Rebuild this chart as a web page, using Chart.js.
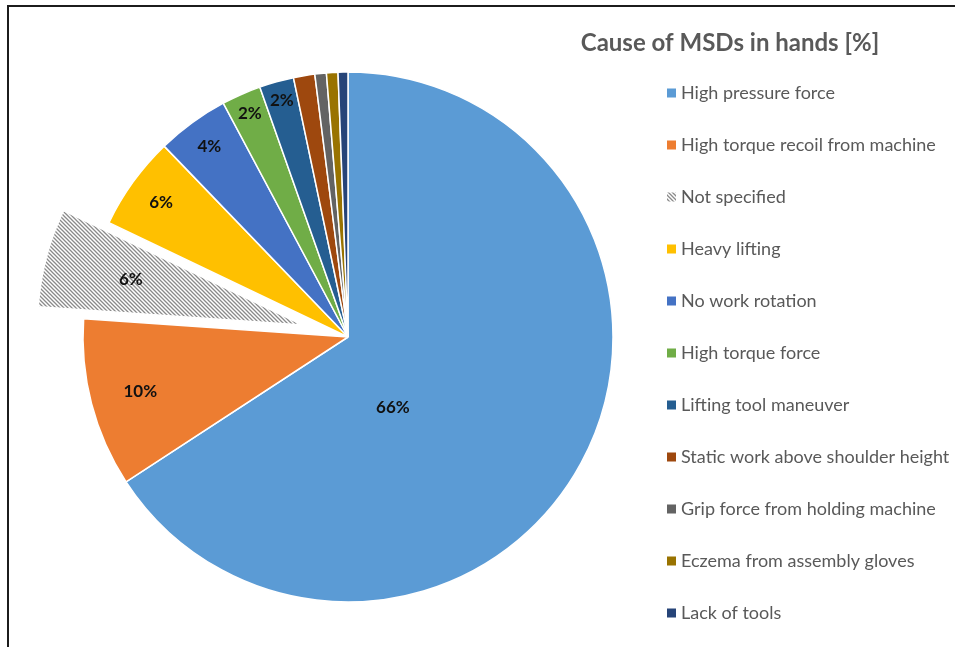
<!DOCTYPE html>
<html>
<head>
<meta charset="utf-8">
<title>Cause of MSDs in hands</title>
<script src="https://cdn.jsdelivr.net/npm/chart.js@4.4.1/dist/chart.umd.min.js"></script>
<style>
    html, body { margin: 0; padding: 0; background: #fff; }
    #wrap { position: relative; width: 955px; height: 647px; overflow: hidden; }
    #frame {
        position: absolute; left: 7px; top: 5px; right: -4px; bottom: -4px;
        border-top: 2px solid #1c1c1c; border-left: 2px solid #1c1c1c;
        pointer-events: none;
    }
</style>
</head>
<body>
<div id="wrap">
    <canvas id="msdChart" width="955" height="647"></canvas>
    <div id="frame"></div>
</div>
<script>
// Causes, in drawing order (clockwise from 12 o'clock)
const categories = [
    'High pressure force',
    'High torque recoil from machine',
    'Not specified',
    'Heavy lifting',
    'No work rotation',
    'High torque force',
    'Lifting tool maneuver',
    'Static work above shoulder height',
    'Grip force from holding machine',
    'Eczema from assembly gloves',
    'Lack of tools'
];
// Share of answers, %
const shares = [65.8, 10.3, 6.0, 5.7, 4.4, 2.4, 2.1, 1.3, 0.7, 0.7, 0.6];
const chartTitle = 'Cause of MSDs in hands [%]';

const sliceColors = [
    '#5B9BD5', '#ED7D31', null, '#FFC000', '#4472C4', '#70AD47',
    '#255E91', '#9E480E', '#636363', '#997300', '#264478'
];

// grey diagonal hatch for "Not specified"
function hatchPattern() {
    const c = document.createElement('canvas');
    c.width = 4; c.height = 4;
    const g = c.getContext('2d');
    g.fillStyle = '#ffffff';
    g.fillRect(0, 0, 4, 4);
    g.strokeStyle = '#8a8a8a';
    g.lineWidth = 1.3;
    g.beginPath();
    g.moveTo(-1, -1); g.lineTo(5, 5);
    g.moveTo(-1, 3); g.lineTo(1, 5);
    g.moveTo(3, -1); g.lineTo(5, 1);
    g.stroke();
    return g.createPattern(c, 'repeat');
}
const fills = sliceColors.map(c => c || hatchPattern());

const TEXT_GREY = '#595959';
const FONT = "Lato, 'Open Sans', sans-serif";

// pulls one slice out of the pie along its bisector
const explodePlugin = {
    id: 'explode',
    afterUpdate(chart, args, opts) {
        const el = chart.getDatasetMeta(0).data[opts.index];
        if (!el) return;
        const mid = (el.startAngle + el.endAngle) / 2;
        el.x += Math.cos(mid) * opts.distance;
        el.y += Math.sin(mid) * opts.distance;
    }
};

// percentage labels inside the slices
const sliceLabels = {
    id: 'sliceLabels',
    afterDatasetsDraw(chart, args, opts) {
        const ctx = chart.ctx;
        const data = chart.data.datasets[0].data;
        ctx.save();
        ctx.font = opts.font;
        ctx.fillStyle = opts.color;
        ctx.textAlign = 'center';
        ctx.textBaseline = 'middle';
        chart.getDatasetMeta(0).data.forEach((arc, i) => {
            if (data[i] < opts.minValue) return;
            const place = opts.place[i] || [0.5, 0.85];
            const a = arc.startAngle + (arc.endAngle - arc.startAngle) * place[0];
            const r = arc.outerRadius * place[1];
            ctx.fillText(Math.round(data[i]) + '%', arc.x + Math.cos(a) * r, arc.y + Math.sin(a) * r);
        });
        ctx.restore();
    }
};

// title and legend column on the right
const sideLegend = {
    id: 'sideLegend',
    afterDraw(chart, args, opts) {
        const ctx = chart.ctx;
        const bg = chart.data.datasets[0].backgroundColor;
        ctx.save();
        ctx.fillStyle = TEXT_GREY;
        ctx.font = 'bold 24px ' + FONT;
        ctx.textAlign = 'center';
        ctx.textBaseline = 'middle';
        ctx.fillText(chartTitle, opts.titleX, opts.titleY);

        ctx.font = '18px ' + FONT;
        ctx.textAlign = 'left';
        chart.data.labels.forEach((lab, i) => {
            const y = opts.top + i * opts.step;
            ctx.fillStyle = bg[i];
            ctx.fillRect(opts.left, y - 4.5, 9, 9);
            ctx.fillStyle = TEXT_GREY;
            ctx.fillText(lab, opts.left + 14, y);
        });
        ctx.restore();
    }
};

new Chart(document.getElementById('msdChart'), {
    type: 'pie',
    data: {
        labels: categories,
        datasets: [{
            data: shares,
            backgroundColor: fills,
            borderColor: '#ffffff',
            borderWidth: 1.5,
            radius: 265
        }]
    },
    options: {
        responsive: false,
        devicePixelRatio: 1,
        animation: false,
        events: [],
        layout: { padding: { left: 0, right: 259, top: 27, bottom: 0 } },
        plugins: {
            legend: { display: false },
            tooltip: { enabled: false },
            explode: { index: 2, distance: 47 },
            sliceLabels: {
                font: 'bold 17px ' + FONT,
                color: '#111',
                minValue: 1.5,
                place: [
                    [0.622, 0.314], [0.5, 0.81], [0.5, 0.67], [0.5, 0.87],
                    [0.5, 0.89], [0.5, 0.92], [0.5, 0.925]
                ]
            },
            sideLegend: { titleX: 730, titleY: 43, left: 667, top: 93, step: 52 }
        }
    },
    plugins: [explodePlugin, sliceLabels, sideLegend]
});
</script>
</body>
</html>
